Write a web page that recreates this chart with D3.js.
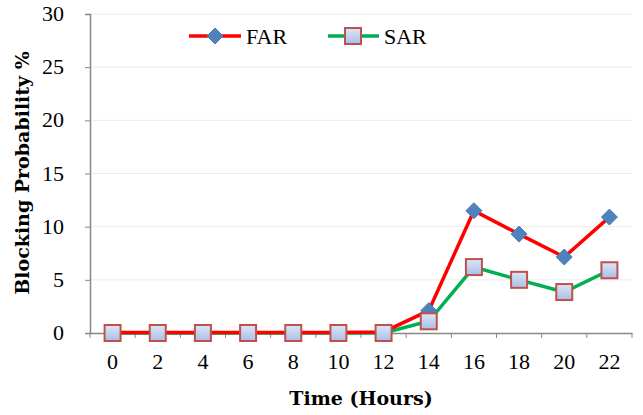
<!DOCTYPE html>
<html><head><meta charset="utf-8">
<script src="https://cdn.jsdelivr.net/npm/d3@7"></script>
<style>body{margin:0;background:#fff}</style>
</head><body>
<svg id="c" width="643" height="415"></svg>
<script>
const hours = [0,2,4,6,8,10,12,14,16,18,20,22];
const far = [0.05,0.05,0.05,0.05,0.05,0.05,0.1,2.1,11.5,9.3,7.15,10.9];
const sar = [0,0,0,0,0,0,0,1.1,6.2,5.0,3.85,5.9];
const yTicks = [0,5,10,15,20,25,30];
const seriesNames = ["FAR","SAR"];

const svg = d3.select("#c");
const L=90,R=632,T=14,B=333;
const x = d3.scaleBand().domain(hours).range([L,R]);
const y = d3.scaleLinear().domain([0,30]).range([B,T]);
const font = "'Liberation Serif', serif";
const bfont = "'DejaVu Serif', serif";

// gridlines
svg.append("g").selectAll("line").data(yTicks.filter(d=>d>0)).join("line")
  .attr("x1",L).attr("x2",R).attr("y1",d=>y(d)).attr("y2",d=>y(d))
  .attr("stroke","#ececec").attr("stroke-width",1);

// y axis
const ya = svg.append("g").attr("transform",`translate(${L},0)`)
  .call(d3.axisLeft(y).tickValues(yTicks).tickSize(5).tickPadding(21));
ya.attr("font-family",font).attr("font-size",22);
ya.select(".domain").attr("stroke","#888").attr("stroke-width",1.5);
ya.selectAll(".tick line").attr("stroke","#888");
ya.selectAll("text").attr("fill","#000").attr("dy","0.3em");

// x axis
const xa = svg.append("g").attr("transform",`translate(0,${B})`)
  .call(d3.axisBottom(x).tickSize(0).tickPadding(20));
xa.attr("font-family",font).attr("font-size",22);
xa.select(".domain").attr("stroke","#888").attr("stroke-width",1.5);
xa.selectAll("text").attr("fill","#000");
// tick marks between categories
svg.append("g").selectAll("line").data(hours.concat(["end"])).join("line")
  .attr("x1",(d,i)=>L+i*x.step()).attr("x2",(d,i)=>L+i*x.step())
  .attr("y1",B).attr("y2",B+5).attr("stroke","#888");

// titles
svg.append("text").attr("x",361).attr("y",405).attr("text-anchor","middle")
  .attr("font-family",bfont).attr("font-weight","bold").attr("font-size",19).text("Time (Hours)");
svg.append("text").attr("transform","translate(29,173) rotate(-90)").attr("text-anchor","middle")
  .attr("font-family",bfont).attr("font-weight","bold").attr("font-size",19).text("Blocking Probability %");

const cx = d=>x(d)+x.bandwidth()/2;
const line = d3.line().x((d,i)=>cx(hours[i])).y(d=>y(d));

// SAR
svg.append("path").datum(sar).attr("d",line).attr("fill","none").attr("stroke","#00b050").attr("stroke-width",3.5);
// FAR
svg.append("path").datum(far).attr("d",line).attr("fill","none").attr("stroke","#ff0000").attr("stroke-width",3.5);

const defs = svg.append("defs");
const grad = defs.append("linearGradient").attr("id","sq").attr("x1",0).attr("y1",0).attr("x2",0).attr("y2",1);
grad.append("stop").attr("offset",0).attr("stop-color","#dde6f5");
grad.append("stop").attr("offset",1).attr("stop-color","#a9bfe6");

function diamond(g,px,py){
  g.append("path").attr("d",`M${px},${py-8}L${px+8},${py}L${px},${py+8}L${px-8},${py}Z`)
   .attr("fill","#4f81bd").attr("stroke","#4a7ab5").attr("stroke-width",1);
}
function square(g,px,py){
  g.append("rect").attr("x",px-8).attr("y",py-8).attr("width",16).attr("height",16)
   .attr("fill","url(#sq)").attr("stroke","#c0504d").attr("stroke-width",2);
}
const fm = svg.append("g");
far.forEach((v,i)=>diamond(fm,cx(hours[i]),y(v)));
const sm = svg.append("g");
sar.forEach((v,i)=>square(sm,cx(hours[i]),y(v)));

// legend
const lg = svg.append("g");
lg.append("line").attr("x1",189).attr("x2",241).attr("y1",36).attr("y2",36).attr("stroke","#ff0000").attr("stroke-width",3.5);
diamond(lg,215,36);
lg.append("text").attr("x",246).attr("y",44).attr("font-family",font).attr("font-size",22).text(seriesNames[0]);
lg.append("line").attr("x1",328).attr("x2",379).attr("y1",36).attr("y2",36).attr("stroke","#00b050").attr("stroke-width",3.5);
square(lg,353,36);
lg.append("text").attr("x",384).attr("y",44).attr("font-family",font).attr("font-size",22).text(seriesNames[1]);
</script>
</body></html>
